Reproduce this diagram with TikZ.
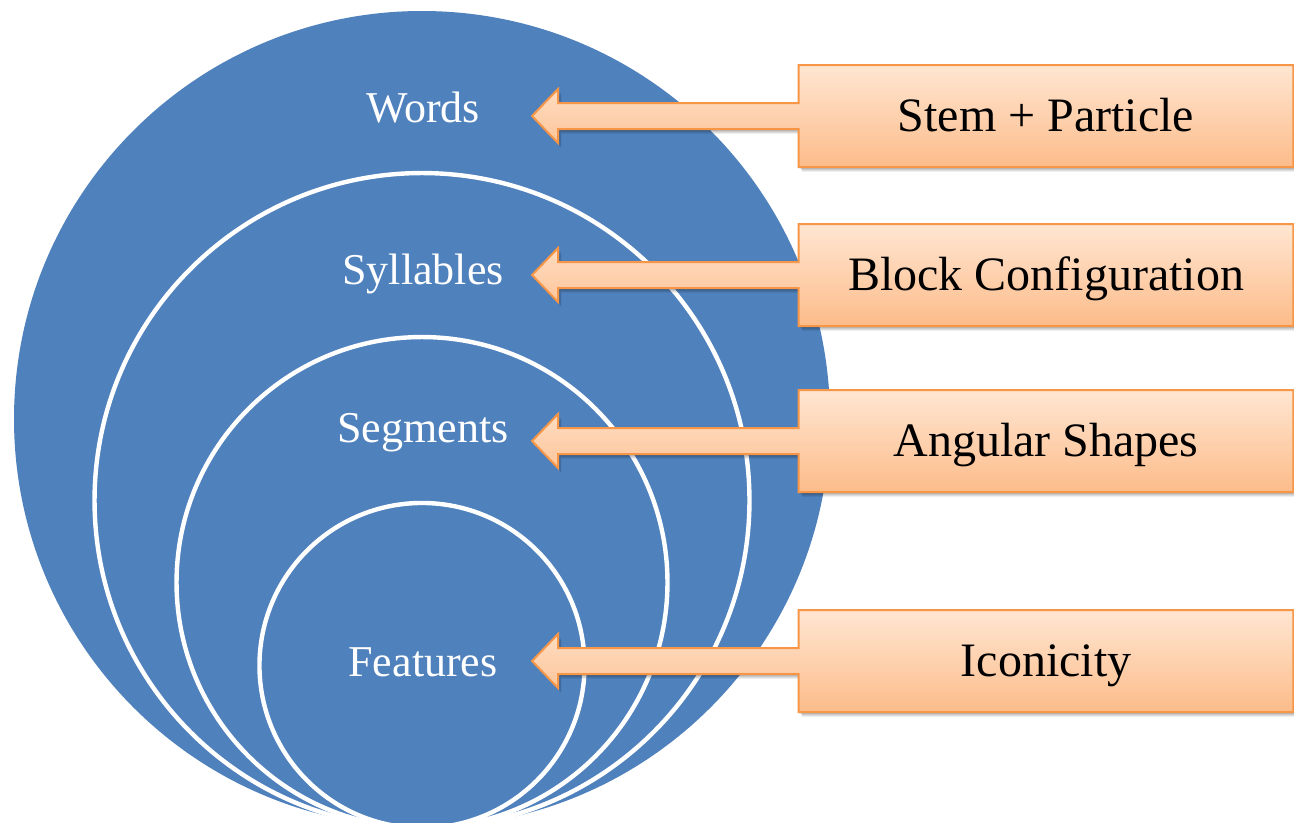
\documentclass[tikz,border=0pt]{standalone}
\usepackage{fontspec}
\setmainfont{Liberation Serif}
\usetikzlibrary{calc}
\definecolor{cblue}{RGB}{79,129,189}
\definecolor{oborder}{RGB}{247,150,70}
\definecolor{otop}{RGB}{255,230,210}
\definecolor{obot}{RGB}{252,188,138}
\pgfdeclarelayer{back}
\pgfdeclarelayer{mid}
\pgfsetlayers{back,mid,main}
\tikzset{
  x=0.75pt, y=-0.75pt,
  ringline/.style={draw=white, line width=3.3pt},
  circlabel/.style={text=white, font=\fontsize{33}{40}\selectfont, inner sep=0pt, outer sep=0pt, text height=21.8pt, text depth=0pt, anchor=center},
  boxnode/.style={minimum width=371pt, minimum height=76.5pt, inner sep=0pt, outer sep=0pt, font=\fontsize{36}{43}\selectfont, text height=23.8pt, text depth=0pt},
  arrowshape/.style={draw=oborder, line width=1.5pt, line join=miter, top color=otop, bottom color=obot},
  shadowshape/.style={fill=black, fill opacity=0.10, draw=none},
}
\newcommand{\arrowpath}[3]{%
  \path[#3] (#1.north west) -- (#1.north east) -- (#1.south east) -- (#1.south west)
    -- ($(#1.west)+(0,13)$) -- ($(#2)+(26,13)$) -- ($(#2)+(26,27)$) -- (#2)
    -- ($(#2)+(26,-27)$) -- ($(#2)+(26,-13)$) -- ($(#1.west)+(0,-13)$) -- cycle;}
\newcommand{\boxarrow}[2]{%
  \begin{pgfonlayer}{mid}
  \begin{scope}[transform canvas={shift={(1pt,-1.5pt)}}]\arrowpath{#1}{#2}{shadowshape}\end{scope}
  \begin{scope}[transform canvas={shift={(2pt,-2.5pt)}}]\arrowpath{#1}{#2}{shadowshape}\end{scope}
  \begin{scope}[transform canvas={shift={(2.5pt,-3.5pt)}}]\arrowpath{#1}{#2}{shadowshape}\end{scope}
  \arrowpath{#1}{#2}{arrowshape}
  \end{pgfonlayer}}
\begin{document}
\begin{tikzpicture}
\useasboundingbox (0,0) rectangle (1294,822);
\begin{pgfonlayer}{back}
  \fill[white] (0,0) rectangle (1294,822);
  \begin{scope}
  \clip (0,0) rectangle (1294,822);
  \fill[cblue] (422,419) circle[radius=306pt];
  \draw[ringline] (422,500.5) circle[radius=245.6pt];
  \draw[ringline] (422,582.5) circle[radius=184.1pt];
  \draw[ringline] (422,665.5) circle[radius=121.9pt];
  \end{scope}
\end{pgfonlayer}

\node[circlabel] (words) at (423,108) {Words};
\node[circlabel] (syll) at (423,270) {Syllables};
\node[circlabel] (segm) at (423,428) {Segments};
\node[circlabel] (feat) at (423,662) {Features};

\node[boxnode] (b1) at (1046,116) {Stem + Particle};
\node[boxnode] (b2) at (1046,275) {Block Configuration};
\node[boxnode] (b3) at (1046,441) {Angular Shapes};
\node[boxnode] (b4) at (1046,661) {Iconicity};

\coordinate (t1) at (532,116);
\coordinate (t2) at (532,275);
\coordinate (t3) at (532,441);
\coordinate (t4) at (532,661);

\boxarrow{b1}{t1}
\boxarrow{b2}{t2}
\boxarrow{b3}{t3}
\boxarrow{b4}{t4}
\end{tikzpicture}
\end{document}
